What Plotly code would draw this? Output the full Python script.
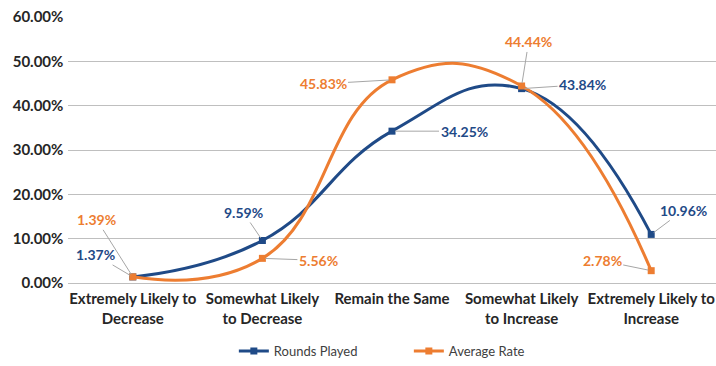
import plotly.graph_objects as go

categories = ["Extremely Likely to<br>Decrease", "Somewhat Likely<br>to Decrease", "Remain the Same",
              "Somewhat Likely<br>to Increase", "Extremely Likely to<br>Increase"]
rounds_played = [0.0137, 0.0959, 0.3425, 0.4384, 0.1096]
average_rate = [0.0139, 0.0556, 0.4583, 0.4444, 0.0278]

# label offsets in pixels (text centre relative to point)
rounds_offsets = [(-37, -22), (-19, -28), (72, 0), (61, -4), (32, -24)]
average_offsets = [(-36, -57), (56, 2), (-69, 4), (7, -44), (-49, -10)]

BLUE = "#1F4A87"
ORANGE = "#ED7D31"
FONT = "Lato"

x = list(range(len(categories)))
fig = go.Figure()
fig.add_trace(go.Scatter(x=x, y=rounds_played, name="Rounds Played", mode="lines+markers",
                         line=dict(color=BLUE, width=3, shape="spline", smoothing=1.3),
                         marker=dict(symbol="square", size=7, color=BLUE)))
fig.add_trace(go.Scatter(x=x, y=average_rate, name="Average Rate", mode="lines+markers",
                         line=dict(color=ORANGE, width=3, shape="spline", smoothing=1.3),
                         marker=dict(symbol="square", size=7, color=ORANGE)))

annotations = []
for vals, offs, col in [(rounds_played, rounds_offsets, BLUE), (average_rate, average_offsets, ORANGE)]:
    for i, (v, (ax, ay)) in enumerate(zip(vals, offs)):
        annotations.append(dict(x=i, y=v, xref="x", yref="y", text=f"{v*100:.2f}%",
                                showarrow=True, ax=ax, ay=ay, arrowhead=0, arrowwidth=1,
                                arrowcolor="#A6A6A6", standoff=3,
                                font=dict(family=FONT, size=14, color=col, weight="bold")))

fig.update_layout(
    width=716, height=366,
    margin=dict(l=68, r=0, t=17, b=82),
    plot_bgcolor="white", paper_bgcolor="white",
    showlegend=True,
    legend=dict(orientation="h", x=0.526, xanchor="center", y=-0.255, yanchor="middle",
                entrywidth=130, tracegroupgap=0, borderwidth=0,
                font=dict(family=FONT, size=13, color="#404040")),
    xaxis=dict(range=[-0.5, 4.5], tickmode="array", tickvals=x, ticktext=categories,
               showgrid=False, zeroline=False, showline=False, ticklabelstandoff=5,
               automargin=False,
               tickfont=dict(family=FONT, size=15, color="#262626", weight="bold")),
    yaxis=dict(range=[0, 0.6], dtick=0.1, tickformat=".2%", showgrid=True, gridcolor="#BFBFBF",
               gridwidth=1, zeroline=True, zerolinecolor="#BFBFBF", zerolinewidth=1,
               automargin=False,
               tickfont=dict(family=FONT, size=15, color="#262626", weight="bold"), ticksuffix=" "),
    annotations=annotations,
)
fig.write_html("out.html")
